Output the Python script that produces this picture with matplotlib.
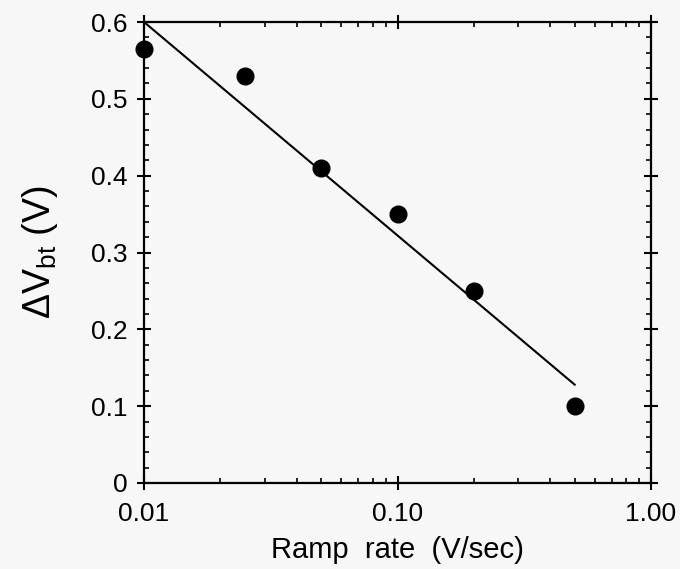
import matplotlib
matplotlib.use('Agg')
import matplotlib.pyplot as plt
from matplotlib.ticker import MultipleLocator, FixedLocator, FixedFormatter, LogLocator, NullFormatter

plt.rcParams['font.family'] = ['Liberation Sans', 'DejaVu Sans']
plt.rcParams['mathtext.fontset'] = 'custom'
plt.rcParams['mathtext.rm'] = 'Liberation Sans'
plt.rcParams['mathtext.it'] = 'Liberation Sans'

# measured points
ramp = [0.01, 0.025, 0.05, 0.10, 0.20, 0.50]
dvbt = [0.565, 0.53, 0.41, 0.35, 0.25, 0.10]
# fitted line end points
fit_x = [0.01, 0.50]
fit_y = [0.60, 0.128]

xticks = [0.01, 0.1, 1.0]
xticklabels = ['0.01', '0.10', '1.00']
yticks = [0, 0.1, 0.2, 0.3, 0.4, 0.5, 0.6]
yticklabels = ['0', '0.1', '0.2', '0.3', '0.4', '0.5', '0.6']

fig = plt.figure(figsize=(6.8, 5.69), dpi=100)
fig.patch.set_facecolor('#f7f7f7')
ax = fig.add_axes([144/680, 1 - 483/569, 507/680, 461/569])
ax.set_facecolor('#f7f7f7')

ax.plot(fit_x, fit_y, color='black', linewidth=1.5)
ax.plot(ramp, dvbt, 'o', color='black', markersize=12, clip_on=False, zorder=5)

ax.set_xscale('log')
ax.set_xlim(0.01, 1.0)
ax.set_ylim(0, 0.6)

ax.xaxis.set_major_locator(FixedLocator(xticks))
ax.xaxis.set_major_formatter(FixedFormatter(xticklabels))
ax.xaxis.set_minor_locator(LogLocator(base=10, subs=range(2, 10)))
ax.xaxis.set_minor_formatter(NullFormatter())
ax.yaxis.set_major_locator(FixedLocator(yticks))
ax.yaxis.set_major_formatter(FixedFormatter(yticklabels))
ax.yaxis.set_minor_locator(MultipleLocator(0.02))

ax.tick_params(which='major', direction='inout', length=10, width=1.5,
               top=True, right=True, labelsize=19)
ax.tick_params(axis='y', which='major', pad=7)
ax.tick_params(axis='x', which='major', pad=9)
ax.tick_params(which='minor', direction='in', length=3.5, width=1.2,
               top=True, right=True)
for s in ax.spines.values():
    s.set_linewidth(1.6)

ax.set_xlabel('Ramp  rate  (V/sec)', fontsize=21, labelpad=7)
ax.set_ylabel(r'$\Delta$V$_{\rm bt}$ (V)', fontsize=27, labelpad=22)

fig.savefig('out.png', dpi=100, facecolor=fig.get_facecolor())
